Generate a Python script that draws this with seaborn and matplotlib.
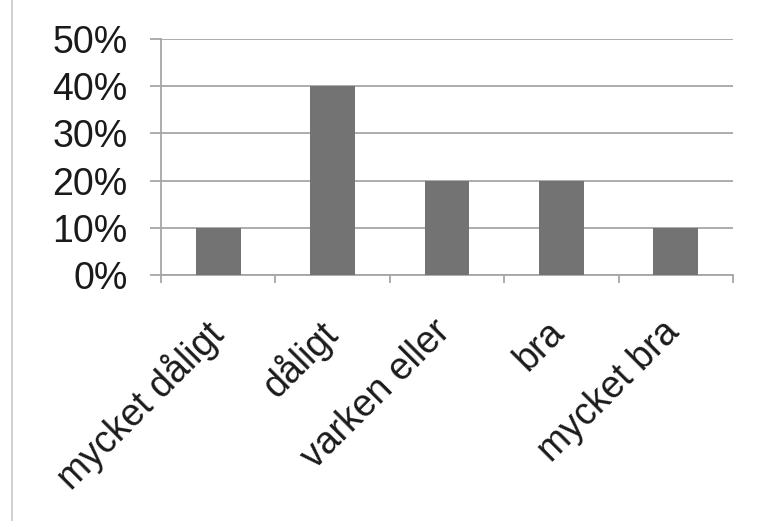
import matplotlib
matplotlib.use("Agg")
import matplotlib.pyplot as plt
import seaborn as sns
import pandas as pd
import numpy as np
from matplotlib.lines import Line2D
from matplotlib.ticker import FixedLocator, PercentFormatter
from matplotlib.transforms import ScaledTranslation

categories = ["mycket dåligt", "dåligt", "varken eller", "bra", "mycket bra"]
values = [10, 40, 20, 20, 10]
yticks = [0, 10, 20, 30, 40, 50]

sns.set_theme(style="white")
plt.rcParams['font.family'] = ['Liberation Sans', 'DejaVu Sans']

df = pd.DataFrame({"cat": categories, "val": values})

fig = plt.figure(figsize=(7.59, 5.21), dpi=100)
ax = fig.add_axes([161/759, 1-275/521, (733-161)/759, (275-39)/521])

sns.barplot(data=df, x="cat", y="val", ax=ax, color="#737373", width=0.39,
            saturation=1, edgecolor="none", zorder=3)

grid_c = "#a6a6a6"
ax.set_ylim(0, 50)
ax.set_xlim(-0.5, len(categories)-0.5)
ax.set_yticks(yticks)
ax.yaxis.set_major_formatter(PercentFormatter(decimals=0))
ax.grid(axis="y", color=grid_c, linewidth=1.3, zorder=0)
ax.set_axisbelow(True)
for s in ["top", "right"]:
    ax.spines[s].set_visible(False)
for s in ["left", "bottom"]:
    ax.spines[s].set_color(grid_c)
    ax.spines[s].set_linewidth(1.3)
ax.tick_params(axis="y", length=8, width=1.3, color=grid_c, pad=16,
               labelsize=27, labelcolor="#1a1a1a", left=True)
ax.xaxis.set_minor_locator(FixedLocator(np.arange(-0.5, len(categories), 1.0)))
ax.tick_params(axis="x", which="minor", length=6, width=1.3, color=grid_c, bottom=True)
ax.tick_params(axis="x", which="major", length=0, pad=30)
ax.set_xticks(range(len(categories)))
ax.set_xticklabels(categories, rotation=45, ha="right", rotation_mode="anchor",
                   fontsize=27, color="#1a1a1a")
offset = ScaledTranslation(-0.15, 0.03, fig.dpi_scale_trans)
for lab in ax.get_xticklabels():
    lab.set_transform(lab.get_transform() + offset)
ax.set_xlabel("")
ax.set_ylabel("")

fig.add_artist(Line2D([12/759, 12/759], [0, 1], color="#c8c8c8", linewidth=1.2,
                      transform=fig.transFigure))

fig.savefig("out.png", dpi=100, facecolor="white")
